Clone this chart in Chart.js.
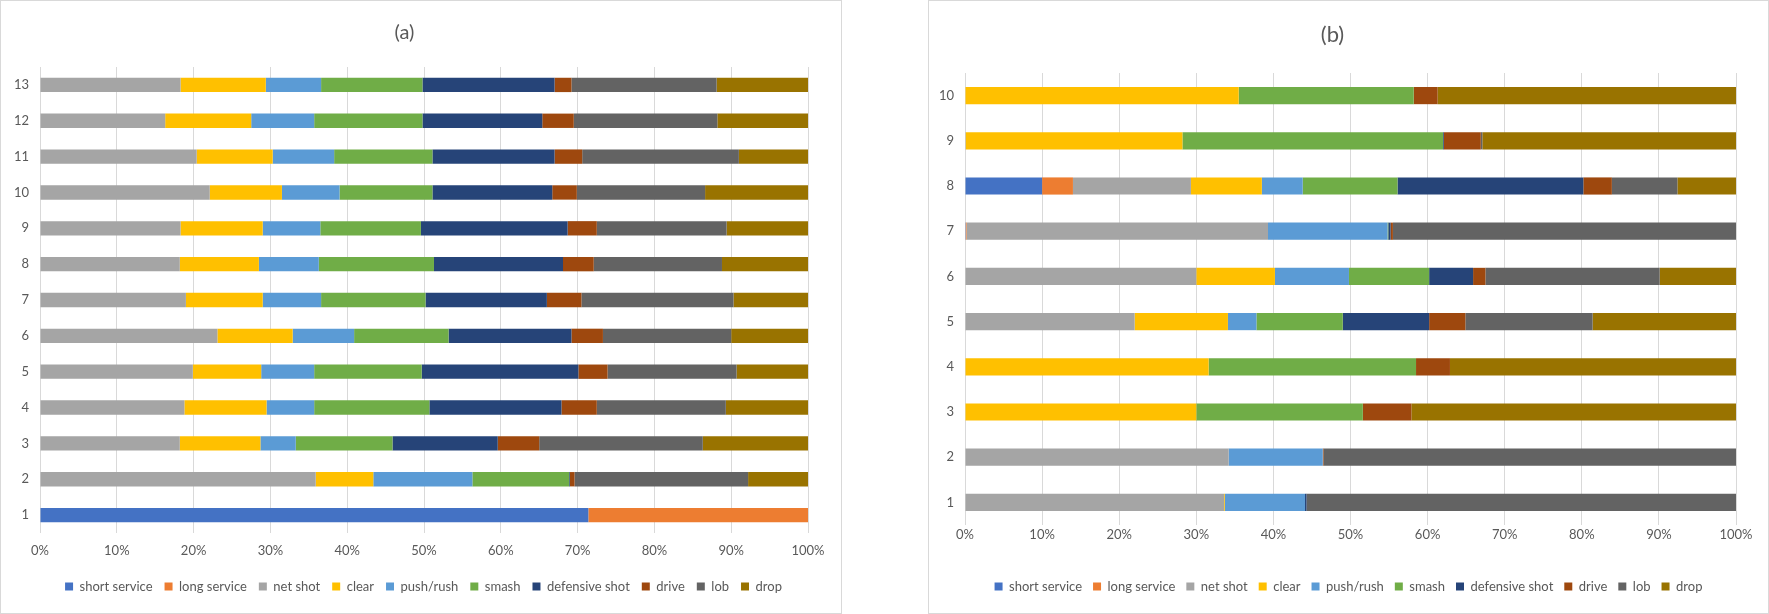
<!DOCTYPE html>
<html>
<head>
<meta charset="utf-8">
<script src="https://cdn.jsdelivr.net/npm/chart.js@4"></script>
<style>
  html, body { margin: 0; padding: 0; background: #ffffff; }
  body { width: 1769px; height: 614px; position: relative; overflow: hidden; }
  .panel { position: absolute; top: 0; height: 612px; border: 1px solid #d9d9d9; background: #fff; }
  #pa { left: 0; width: 840px; }
  #pb { left: 928px; width: 839px; }
  .panel canvas { position: absolute; left: 0; top: 0; }
</style>
</head>
<body>
<div class="panel" id="pa"><canvas id="ca"></canvas></div>
<div class="panel" id="pb"><canvas id="cb"></canvas></div>
<script>
// ---------- shared ----------
const seriesNames = ['short service','long service','net shot','clear','push/rush','smash','defensive shot','drive','lob','drop'];
const seriesColors = ['#4472C4','#ED7D31','#A5A5A5','#FFC000','#5B9BD5','#70AD47','#264478','#9E480E','#636363','#997300'];
const xTicks = [0,10,20,30,40,50,60,70,80,90,100];

// ---------- panel (a): rows 1..13 (percent) ----------
const rowsA = ['1','2','3','4','5','6','7','8','9','10','11','12','13'];
const aShortService = [71.4, 0, 0, 0, 0, 0, 0, 0, 0, 0, 0, 0, 0];
const aLongService  = [28.6, 0, 0, 0, 0, 0, 0, 0, 0, 0, 0, 0, 0];
const aNetShot      = [0, 35.9, 18.2, 18.8, 19.9, 23.1, 19.0, 18.2, 18.3, 22.1, 20.4, 16.3, 18.3];
const aClear        = [0, 7.5, 10.5, 10.7, 8.9, 9.8, 10.0, 10.3, 10.7, 9.4, 9.9, 11.2, 11.1];
const aPushRush     = [0, 12.9, 4.6, 6.2, 6.9, 8.0, 7.6, 7.8, 7.5, 7.5, 8.0, 8.2, 7.2];
const aSmash        = [0, 12.6, 12.6, 15.0, 14.0, 12.3, 13.6, 15.0, 13.1, 12.1, 12.8, 14.1, 13.2];
const aDefensive    = [0, 0.1, 13.7, 17.2, 20.4, 16.0, 15.8, 16.8, 19.1, 15.6, 15.9, 15.6, 17.2];
const aDrive        = [0, 0.6, 5.4, 4.6, 3.8, 4.1, 4.5, 4.0, 3.8, 3.2, 3.6, 4.1, 2.2];
const aLob          = [0, 22.6, 21.3, 16.8, 16.8, 16.7, 19.8, 16.7, 16.9, 16.7, 20.4, 18.7, 18.9];
const aDrop         = [0, 7.8, 13.7, 10.7, 9.3, 10.0, 9.7, 11.2, 10.6, 13.4, 9.0, 11.8, 11.9];

// ---------- panel (b): rows 1..10 (percent) ----------
const rowsB = ['1','2','3','4','5','6','7','8','9','10'];
const bShortService = [0, 0, 0, 0, 0, 0, 0.1, 10.0, 0, 0];
const bLongService  = [0, 0, 0, 0, 0, 0, 0.1, 4.0, 0, 0];
const bNetShot      = [33.6, 34.2, 0, 0, 22.0, 30.0, 39.1, 15.3, 0.1, 0];
const bClear        = [0.1, 0, 30.0, 31.6, 12.1, 10.2, 0, 9.2, 28.1, 35.5];
const bPushRush     = [10.4, 12.2, 0, 0, 3.7, 9.6, 15.5, 5.3, 0, 0];
const bSmash        = [0, 0, 21.6, 26.9, 11.2, 10.4, 0.1, 12.3, 33.8, 22.7];
const bDefensive    = [0.2, 0, 0, 0, 11.2, 5.7, 0.3, 24.1, 0.1, 0];
const bDrive        = [0, 0.1, 6.3, 4.4, 4.7, 1.6, 0.3, 3.7, 4.8, 3.1];
const bLob          = [55.7, 53.5, 0, 0, 16.5, 22.6, 44.5, 8.5, 0.2, 0];
const bDrop         = [0, 0, 42.1, 37.1, 18.6, 9.9, 0, 7.6, 32.9, 38.7];

const seriesA = [aShortService, aLongService, aNetShot, aClear, aPushRush, aSmash, aDefensive, aDrive, aLob, aDrop];
const seriesB = [bShortService, bLongService, bNetShot, bClear, bPushRush, bSmash, bDefensive, bDrive, bLob, bDrop];

Chart.defaults.font.family = 'Lato, "Noto Sans", sans-serif';
Chart.defaults.color = '#595959';
Chart.defaults.animation = false;

// shifts the bottom legend horizontally so it is centred on the whole panel
const legendShift = {
  id: 'legendShift',
  afterLayout(chart, args, opts) {
    const lg = chart.legend;
    if (lg && opts.dx) { lg.left += opts.dx; lg.right += opts.dx; }
  }
};

function makeChart(canvasId, w, h, rows, series, cfg) {
  const cv = document.getElementById(canvasId);
  cv.width = w; cv.height = h;
  cv.style.width = w + 'px'; cv.style.height = h + 'px';
  return new Chart(cv, {
    type: 'bar',
    plugins: [legendShift],
    data: {
      labels: rows,
      datasets: series.map((vals, i) => ({
        label: seriesNames[i],
        data: vals,
        backgroundColor: seriesColors[i],
        borderWidth: 0,
        barPercentage: cfg.barPct,
        categoryPercentage: 1.0
      }))
    },
    options: {
      indexAxis: 'y',
      responsive: false,
      devicePixelRatio: 1,
      layout: { padding: { left: 0, right: cfg.padRight, top: 0, bottom: cfg.padBottom } },
      scales: {
        x: {
          stacked: true,
          min: 0, max: 100,
          afterBuildTicks: (s) => { s.ticks = xTicks.map(v => ({ value: v })); },
          ticks: { callback: (v) => v + '%', font: { size: 13 }, color: '#595959', padding: cfg.tickPad, maxRotation: 0 },
          grid: { color: '#d9d9d9', drawTicks: false, lineWidth: 1 },
          border: { display: false },
          afterFit: (s) => { s.height = cfg.xAxisH; }
        },
        y: {
          stacked: true,
          reverse: true,
          ticks: { font: { size: 13 }, color: '#595959', padding: cfg.yTickPad },
          grid: { display: false, drawTicks: false },
          border: { display: false },
          afterFit: (s) => { s.width = cfg.yAxisW; }
        }
      },
      plugins: {
        legendShift: { dx: cfg.legendDx },
        title: {
          display: true, text: cfg.title,
          font: { size: cfg.titleSize, weight: 'normal' }, color: '#595959',
          padding: { top: cfg.titleTop, bottom: cfg.titleBottom }
        },
        legend: {
          position: 'bottom',
          labels: { boxWidth: 8, boxHeight: 8, padding: cfg.legendPad, font: { size: 13 }, color: '#595959' }
        },
        tooltip: { enabled: false }
      }
    }
  });
}

makeChart('ca', 840, 612, rowsA, seriesA, {
  title: '(a)', titleSize: 20, titleTop: 20, titleBottom: 22,
  padRight: 33, yAxisW: 39, yTickPad: 11, xAxisH: 35, padBottom: 10, tickPad: 10, legendPad: 12, legendDx: 19,
  barPct: 0.4
});
makeChart('cb', 839, 612, rowsB, seriesB, {
  title: '(b)', titleSize: 22, titleTop: 20.8, titleBottom: 24.8,
  padRight: 32, yAxisW: 36, yTickPad: 11, xAxisH: 44, padBottom: 10, tickPad: 2, legendPad: 11, legendDx: 16,
  barPct: 0.38
});
</script>
</body>
</html>
